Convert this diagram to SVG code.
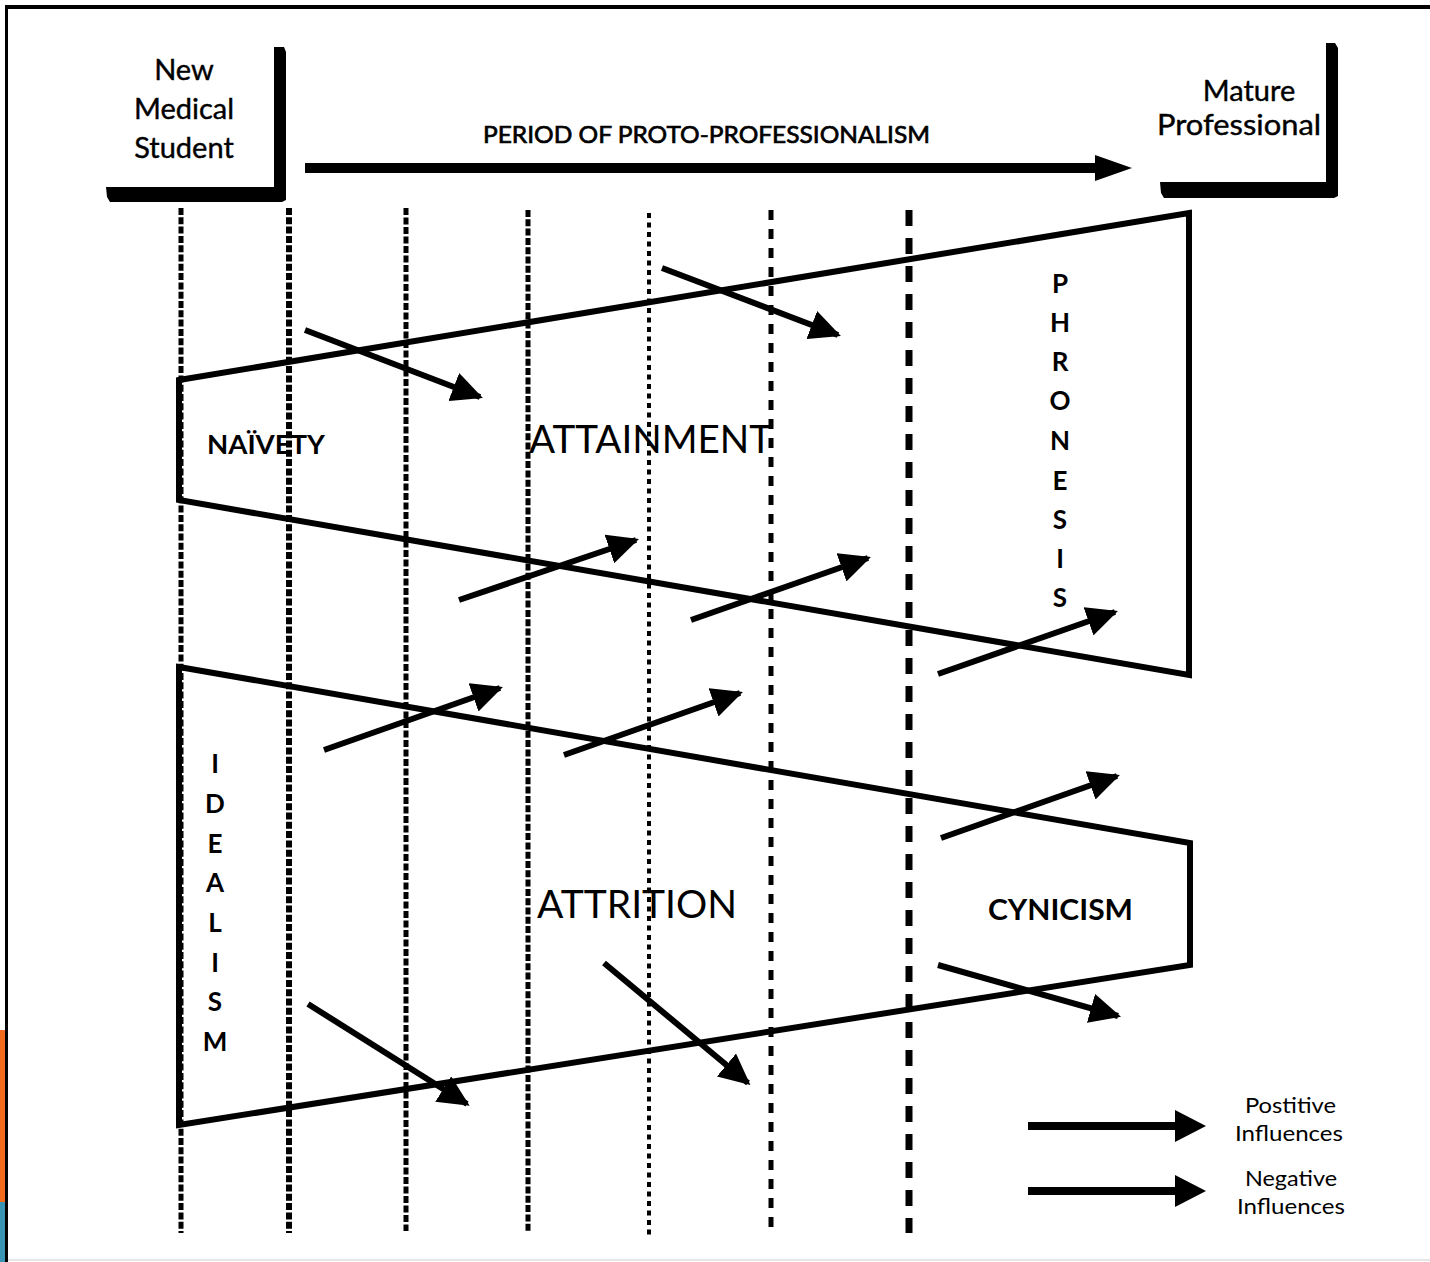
<svg xmlns="http://www.w3.org/2000/svg" width="1430" height="1262" viewBox="0 0 1430 1262">
<defs>
<style>
.t{font-family:Lato,"Open Sans","Liberation Sans",sans-serif;fill:#000}
.v{stroke:#000;fill:none}
.shape{stroke:#000;stroke-width:6;fill:none;stroke-linejoin:miter}
.arr{stroke:#000;stroke-width:6;fill:none;marker-end:url(#ah)}
.bar{fill:#000}
</style>
<marker id="ah" viewBox="0 0 10 10" refX="9" refY="5" markerWidth="5.2" markerHeight="5" orient="auto" markerUnits="strokeWidth" preserveAspectRatio="none">
<path d="M0,0 L10,5 L0,10 z" fill="#000"/>
</marker>
</defs>
<rect width="1430" height="1262" fill="#fff"/>
<g id="frame">
<rect x="0" y="1030" width="5" height="172" fill="#f26b1d"/>
<rect x="0" y="1202" width="5" height="60" fill="#3a95b5"/>
<rect x="5" y="5" width="1425" height="4" fill="#000"/>
<rect x="5" y="5" width="3" height="1257" fill="#000"/>
<rect x="8" y="1259" width="1422" height="2" fill="#e6e6e6"/>
</g>
<g id="gridlines">
<line class="v" x1="181" y1="208" x2="181" y2="1233" stroke-width="5" stroke-dasharray="7 2.3"/>
<line class="v" x1="289" y1="208" x2="289" y2="1233" stroke-width="6" stroke-dasharray="7 2.3"/>
<line class="v" x1="406" y1="208" x2="406" y2="1231" stroke-width="5" stroke-dasharray="7 2.5"/>
<line class="v" x1="528" y1="210" x2="528" y2="1233" stroke-width="5" stroke-dasharray="7 2.3"/>
<line class="v" x1="649" y1="213" x2="649" y2="1235" stroke-width="4" stroke-dasharray="5 4.5"/>
<line class="v" x1="771" y1="210" x2="771" y2="1233" stroke-width="5" stroke-dasharray="10 9"/>
<line class="v" x1="909" y1="210" x2="909" y2="1233" stroke-width="7" stroke-dasharray="16 12"/>
</g>
<g id="node-new-student">
<path class="bar" d="M274,47 L284,47 L286,52 L286,200 L282,202 L110,202 L107,197 L106,187 L274,187 Z"/>
<text class="t" font-size="29" text-anchor="middle" x="184" y="80" stroke="#000" stroke-width="0.4">New</text>
<text class="t" font-size="29" text-anchor="middle" x="184" y="119" stroke="#000" stroke-width="0.4">Medical</text>
<text class="t" font-size="29" text-anchor="middle" x="184" y="158" stroke="#000" stroke-width="0.4">Student</text>
</g>
<g id="node-mature-professional">
<path class="bar" d="M1326,43 L1335,43 L1338,48 L1338,196 L1334,198 L1164,198 L1161,193 L1160,182 L1326,182 Z"/>
<text class="t" font-size="29" text-anchor="middle" x="1249" y="101" stroke="#000" stroke-width="0.4">Mature</text>
<text class="t" font-size="29" x="1157" y="135" textLength="164" lengthAdjust="spacingAndGlyphs" stroke="#000" stroke-width="0.4">Professional</text>
</g>
<g id="node-period">
<text class="t" font-size="24" x="483" y="143" textLength="447" lengthAdjust="spacingAndGlyphs" stroke="#000" stroke-width="0.7">PERIOD OF PROTO-PROFESSIONALISM</text>
<rect x="305" y="163" width="795" height="10" fill="#000"/>
<path d="M1095,155 L1132,168 L1095,181 Z" fill="#000"/>
</g>
<g id="node-attainment">
<path class="shape" d="M179,380 L1189,213 L1189,675 L179,500 Z"/>
<text class="t" font-size="26" font-weight="bold" x="207" y="454" textLength="118" lengthAdjust="spacingAndGlyphs">NAÏVETY</text>
<text class="t" font-size="38" x="529" y="453" textLength="243" lengthAdjust="spacingAndGlyphs">ATTAINMENT</text>
<g class="t" font-size="26" font-weight="bold" text-anchor="middle">
<text x="1060" y="293">P</text>
<text x="1060" y="332">H</text>
<text x="1060" y="371">R</text>
<text x="1060" y="410">O</text>
<text x="1060" y="450">N</text>
<text x="1060" y="490">E</text>
<text x="1060" y="529">S</text>
<text x="1060" y="568">I</text>
<text x="1060" y="607">S</text>
</g>
</g>
<g id="node-attrition">
<path class="shape" d="M179,667 L1190,843 L1190,965 L179,1125 Z"/>
<text class="t" font-size="38" x="537" y="918" textLength="200" lengthAdjust="spacingAndGlyphs">ATTRITION</text>
<text class="t" font-size="28" font-weight="bold" x="988" y="920" textLength="145" lengthAdjust="spacingAndGlyphs">CYNICISM</text>
<g class="t" font-size="26" font-weight="bold" text-anchor="middle">
<text x="215" y="773">I</text>
<text x="215" y="813">D</text>
<text x="215" y="853">E</text>
<text x="215" y="892">A</text>
<text x="215" y="932">L</text>
<text x="215" y="972">I</text>
<text x="215" y="1011">S</text>
<text x="215" y="1051">M</text>
</g>
</g>
<g id="connectors">
<line class="arr" x1="305" y1="330" x2="480" y2="397"/>
<line class="arr" x1="662" y1="268" x2="838" y2="335"/>
<line class="arr" x1="459" y1="600" x2="636" y2="540"/>
<line class="arr" x1="691" y1="620" x2="868" y2="558"/>
<line class="arr" x1="938" y1="674" x2="1115" y2="612"/>
<line class="arr" x1="324" y1="750" x2="500" y2="688"/>
<line class="arr" x1="564" y1="755" x2="740" y2="693"/>
<line class="arr" x1="941" y1="838" x2="1117" y2="776"/>
<line class="arr" x1="938" y1="965" x2="1118" y2="1016"/>
<line class="arr" x1="308" y1="1004" x2="467" y2="1104"/>
<line class="arr" x1="604" y1="963" x2="748" y2="1083"/>
</g>
<g id="legend">
<rect x="1028" y="1122" width="150" height="8" fill="#000"/>
<path d="M1175,1110 L1206,1126 L1175,1142 Z" fill="#000"/>
<rect x="1028" y="1187" width="150" height="8" fill="#000"/>
<path d="M1175,1175 L1206,1191 L1175,1207 Z" fill="#000"/>
<text class="t" font-size="21" x="1245" y="1113" textLength="91" lengthAdjust="spacingAndGlyphs">Postitive</text>
<text class="t" font-size="21" x="1235" y="1141" textLength="108" lengthAdjust="spacingAndGlyphs">Influences</text>
<text class="t" font-size="21" x="1245" y="1186" textLength="92" lengthAdjust="spacingAndGlyphs">Negative</text>
<text class="t" font-size="21" x="1237" y="1214" textLength="108" lengthAdjust="spacingAndGlyphs">Influences</text>
</g>
</svg>
